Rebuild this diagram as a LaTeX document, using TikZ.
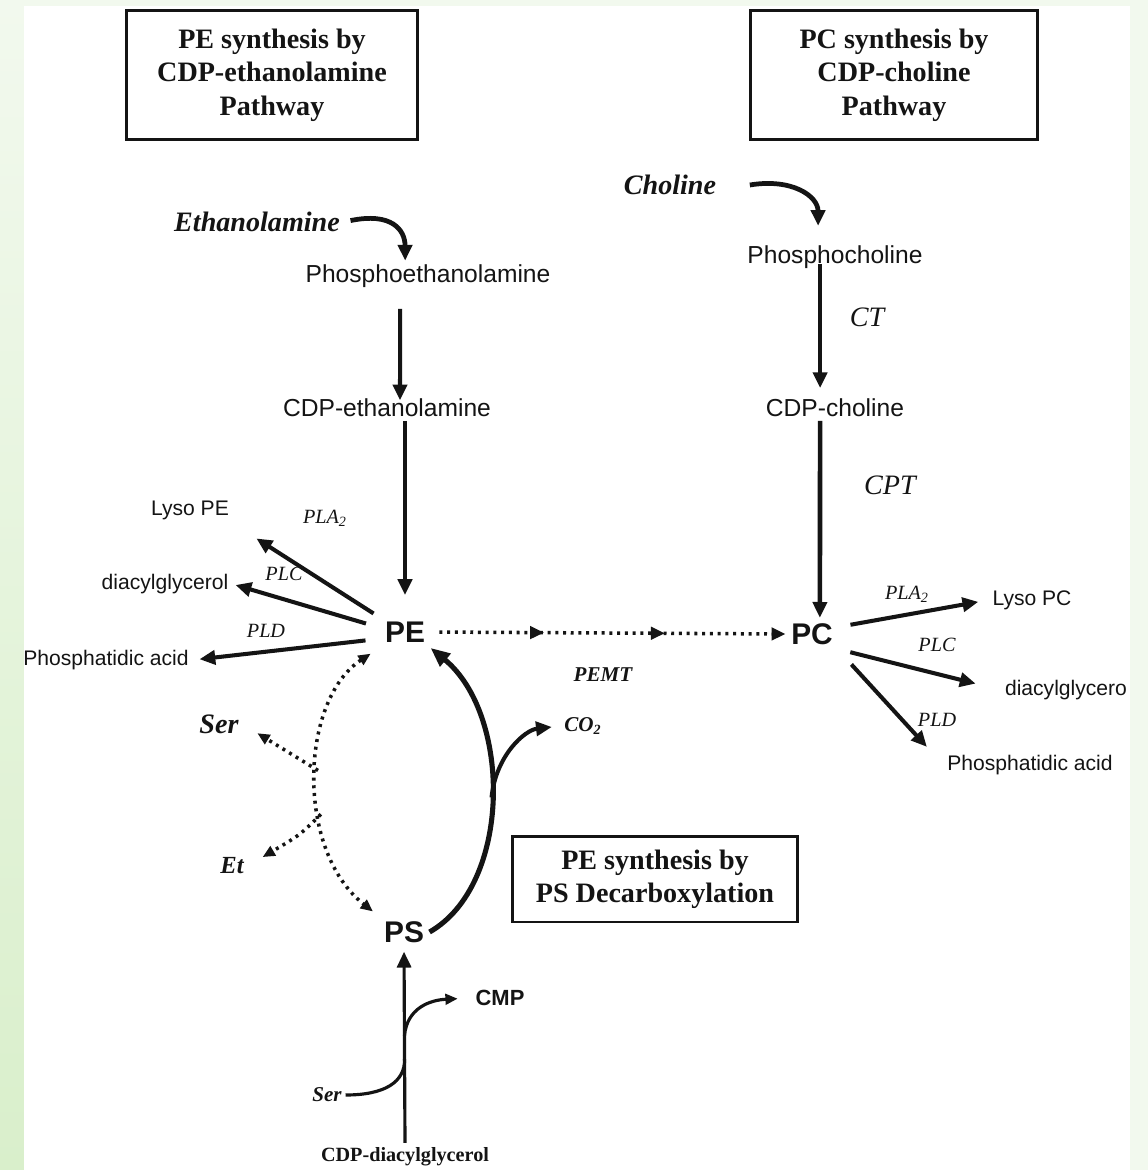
\documentclass[tikz,border=0pt]{standalone}
\usepackage{fontspec}
\setmainfont{Liberation Serif}
\setsansfont{Liberation Sans}
\definecolor{pwink}{HTML}{141414}
\definecolor{pwmint}{HTML}{F2F9EE}
\definecolor{pwleaf}{HTML}{D9EFCB}
\usepackage{tikz}
\usetikzlibrary{arrows.meta,calc,decorations.markings}
\tikzset{
  pwbox/.style  ={rectangle, draw=pwink, line width=1.7pt, align=center, text=pwink,
                  font=\rmfamily\bfseries\fontsize{16}{19}\selectfont},
  pwmet/.style  ={inner sep=2pt, text=pwink, font=\sffamily\fontsize{14}{16}\selectfont},
  pwsml/.style  ={inner sep=2pt, text=pwink, font=\sffamily\fontsize{12}{14}\selectfont},
  pwlip/.style  ={inner sep=3pt, text=pwink, font=\sffamily\bfseries\fontsize{17}{19}\selectfont},
  pwsub/.style  ={inner sep=2pt, text=pwink, font=\rmfamily\bfseries\itshape\fontsize{16}{19}\selectfont},
  pwsubs/.style ={inner sep=2pt, text=pwink, font=\rmfamily\bfseries\itshape\fontsize{12}{14}\selectfont},
  pwenz/.style  ={inner sep=2pt, text=pwink, font=\rmfamily\itshape\fontsize{16}{19}\selectfont},
  pwenzs/.style ={inner sep=2pt, text=pwink, font=\rmfamily\itshape\fontsize{11.5}{13}\selectfont},
  pwarrow/.style={-{Triangle[length=9pt,width=8pt]}, line width=2.3pt, draw=pwink},
  pwthin/.style ={-{Triangle[length=7pt,width=6pt]}, line width=1.8pt, draw=pwink},
  pwdot/.style  ={line width=2pt, draw=pwink, dash pattern=on 1.7pt off 2.7pt},
  pwmid/.style  ={postaction={decorate}, decoration={markings,
                  mark=at position 0.32 with {\arrow{Triangle[length=8pt,width=7pt]}},
                  mark=at position 0.66 with {\arrow{Triangle[length=8pt,width=7pt]}}}},
}
\begin{document}
\begin{tikzpicture}[x=0.02cm, y=-0.02cm]
  \useasboundingbox (0,0) rectangle (1148,1170);
  \fill[pwmint] (0,0) rectangle (1148,1170);
  \shade[top color=pwmint, bottom color=pwleaf] (0,0) rectangle (24,1170);
  \fill[white] (24,6) rectangle (1130,1170);

  \node[pwbox, minimum width=5.82cm, minimum height=2.6cm] (boxpe) at (272,75)
    {PE synthesis by\\CDP-ethanolamine\\Pathway};
  \node[pwbox, minimum width=5.76cm, minimum height=2.6cm] (boxpc) at (894,75)
    {PC synthesis by\\CDP-choline\\Pathway};
  \node[pwbox, minimum width=5.72cm, minimum height=1.72cm] (boxps) at (655,879)
    {PE synthesis by\\PS Decarboxylation};

  \node[pwsub] (etn)  at (257,222) {Ethanolamine};
  \node[pwsub] (cho)  at (670,185) {Choline};
  \node[pwmet] (pea)  at (428,276) {Phosphoethanolamine};
  \node[pwmet] (pcho) at (835,257) {Phosphocholine};
  \node[pwmet] (cdpe) at (387,408) {CDP-ethanolamine};
  \node[pwmet] (cdpc) at (835,408) {CDP-choline};
  \node[pwenz] (ct)   at (867,317) {CT};
  \node[pwenz] (cpt)  at (890,485) {CPT};

  \node[pwlip] (PE) at (405,632) {PE};
  \node[pwlip] (PC) at (812,634) {PC};
  \node[pwlip] (PS) at (404,932) {PS};

  \node[pwsml] (lysope) at (190,510)  {Lyso PE};
  \node[pwsml] (dagpe)  at (165,584)  {diacylglycerol};
  \node[pwsml] (pape)   at (106,660)  {Phosphatidic acid};
  \node[pwsml] (lysopc) at (1032,600) {Lyso PC};
  \node[pwsml] (dagpc)  at (1066,690) {diacylglycero};
  \node[pwsml] (papc)   at (1030,765) {Phosphatidic acid};
  \foreach \nm/\x/\y/\txt in {plape/325/518/PLA\textsubscript{2}, plcpe/284/574/PLC,
      pldpe/266/631/PLD, plapc/907/594/PLA\textsubscript{2}, plcpc/937/645/PLC,
      pldpc/937/720/PLD}
    \node[pwenzs] (\nm) at (\x,\y) {\txt};

  \node[pwsubs] (pemt) at (603,675) {PEMT};
  \node[pwsubs] (co2)  at (583,726) {CO\textsubscript{2}};
  \node[pwsub]  (serl) at (219,724) {Ser};
  \node[pwsub, font=\rmfamily\bfseries\itshape\fontsize{14}{16}\selectfont] (et) at (232,866) {Et};
  \node[pwsubs] (serb) at (327,1095) {Ser};
  \node[pwsml, font=\sffamily\bfseries\fontsize{12.5}{14}\selectfont] (cmp) at (500,998) {CMP};
  \node[pwbox, draw=none, inner sep=2pt, font=\rmfamily\bfseries\fontsize{11.5}{13}\selectfont]
    (cdpdag) at (405,1157) {CDP-diacylglycerol};

  \draw[pwarrow, line width=2.7pt, shorten <=4pt] (etn.east) .. controls (392,212) and (405,230) .. ([xshift=-13pt]pea.north);
  \draw[pwarrow, line width=2.7pt] ([xshift=17pt]cho.east) .. controls (792,178) and (818,196) .. ([xshift=-9.6pt,yshift=9pt]pcho.north);
  \draw[pwarrow] ($(pea.south)+(-15.9pt,-10pt)$) -- ($(cdpe.north)+(7.4pt,-3pt)$);
  \draw[pwarrow] ($(pcho.center)+(-8.5pt,-4pt)$) -- ($(cdpc.north)+(-8.5pt,4pt)$);
  \draw[pwarrow] (cdpe.south -| PE) -- (PE.north) [shorten >=12pt];
  \draw[pwarrow, line width=2.6pt] ($(cdpc.south)+(-8.5pt,0)$) -- ($(PC.north)+(4.5pt,0)$);

  \foreach \from/\to/\sa/\sb in {PE.150/lysope.south east/4pt/16pt, PE.170/dagpe.east/8pt/2pt,
      PE.195/pape.east/8pt/4pt, PC.15/lysopc.west/7pt/6pt, PC.-30/dagpc.west/7pt/15pt,
      PC.south east/papc.west/11pt/14pt}
    \draw[pwarrow, shorten <=\sa, shorten >=\sb] (\from) -- (\to);

  \draw[pwdot, pwmid, -{Triangle[length=8pt,width=7pt]}, shorten <=5pt] (PE.east) -- (PC.west);

  \draw[pwarrow, line width=2.9pt, -{Triangle[length=11pt,width=9pt]}] (PS.east)
    .. controls (512,885) and (512,715) .. coordinate[pos=0.5] (co2fork) (PE.south east);
  \draw[pwarrow] (co2fork) .. controls (496,755) and (525,730) .. (co2.west) [shorten >=5pt];

  \draw[pwdot, {Triangle[length=7pt,width=6pt]}-{Triangle[length=7pt,width=6pt]},
        shorten <=6pt, shorten >=4pt] (PE.south west)
    .. controls (300,700) and (295,850) .. coordinate[pos=0.48] (sertap)
       coordinate[pos=0.62] (ettap) (PS.north west);
  \draw[pwdot, -{Triangle[length=7pt,width=6pt]}, shorten >=10pt] (sertap) -- (serl.east);
  \draw[pwdot, -{Triangle[length=7pt,width=6pt]}, shorten >=10pt] (ettap) .. controls (300,835) .. (et.east);

  \draw[pwthin, -{Triangle[length=9pt,width=8pt]}, shorten >=2pt] (cdpdag.north)
    -- coordinate[pos=0.43] (serjoin) coordinate[pos=0.55] (cmpfork) (PS.south);
  \draw[pwthin, -] (serb.east) .. controls (385,1095) and (405,1082) .. (serjoin);
  \draw[pwthin, shorten >=8pt] (cmpfork) .. controls (407,1008) and (430,1000) .. (cmp.west);
\end{tikzpicture}
\end{document}
